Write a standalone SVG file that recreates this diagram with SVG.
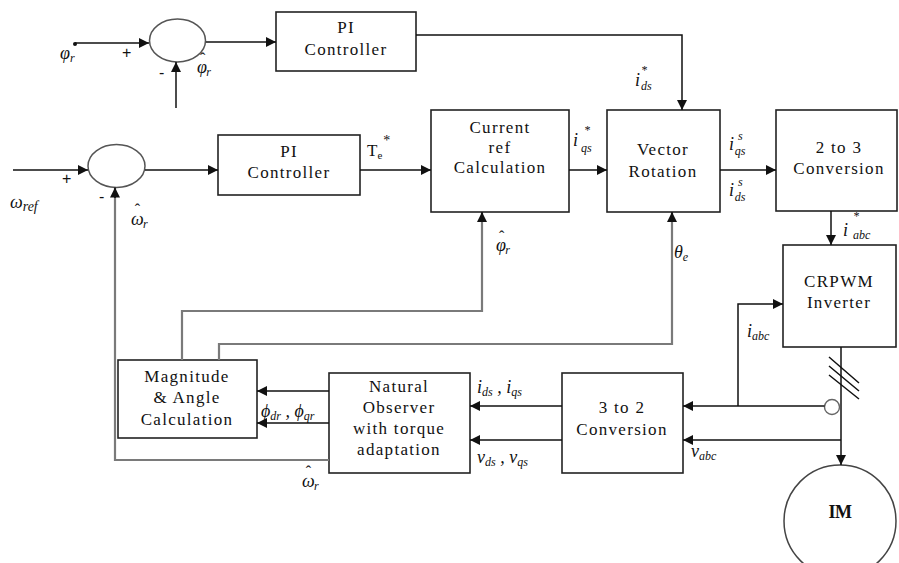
<svg xmlns="http://www.w3.org/2000/svg" width="899" height="563" viewBox="0 0 899 563">
  <style>
    .box { fill: #ffffff; stroke: #222; stroke-width: 1.6; }
    .sum { fill: none; stroke: #555; stroke-width: 1.5; }
    .wire { fill: none; stroke: #111; stroke-width: 1.5; }
    .fb { fill: none; stroke: #7a7a7a; stroke-width: 2.2; }
    .lbl { font-family: "Liberation Serif", "Times New Roman", serif; font-size: 17px; letter-spacing: 1.3px; fill: #111; text-anchor: middle; }
    .m { font-family: "Liberation Serif", serif; font-style: italic; font-size: 18px; fill: #111; }
    .s { font-size: 12px; }
    .hat { font-size: 16px; font-style: normal; }
    .sign { font-family: "Liberation Sans", sans-serif; font-size: 16px; fill: #111; }
  </style>
  <defs>
    <marker id="arrow" viewBox="0 0 10 10" refX="10" refY="5" markerWidth="11" markerHeight="10" markerUnits="userSpaceOnUse" orient="auto">
      <path d="M0,0 L10,5 L0,10 Z" fill="#111"/>
    </marker>
  </defs>

  <!-- summing junctions -->
  <g id="sum-flux">
    <ellipse class="sum" cx="177.5" cy="40.5" rx="28" ry="21.5"/>
    <text class="sign" x="122" y="58">+</text>
    <text class="sign" x="159" y="78">-</text>
  </g>
  <g id="sum-speed">
    <ellipse class="sum" cx="116.5" cy="166" rx="28.5" ry="21.5"/>
    <text class="sign" x="62" y="184">+</text>
    <text class="sign" x="99" y="202">-</text>
  </g>

  <!-- blocks -->
  <g id="pi-flux">
    <rect class="box" x="276" y="12" width="140" height="59"/>
    <text class="lbl" x="346" y="33">PI</text>
    <text class="lbl" x="346" y="55">Controller</text>
  </g>
  <g id="pi-speed">
    <rect class="box" x="218" y="135" width="142" height="60"/>
    <text class="lbl" x="289" y="157">PI</text>
    <text class="lbl" x="289" y="178">Controller</text>
  </g>
  <g id="current-ref">
    <rect class="box" x="431" y="110" width="138" height="102"/>
    <text class="lbl" x="500" y="133">Current</text>
    <text class="lbl" x="500" y="153">ref</text>
    <text class="lbl" x="500" y="173">Calculation</text>
  </g>
  <g id="vector-rotation">
    <rect class="box" x="607" y="110" width="113" height="102"/>
    <text class="lbl" x="663" y="155">Vector</text>
    <text class="lbl" x="663" y="177">Rotation</text>
  </g>
  <g id="conv-2to3">
    <rect class="box" x="776" y="110" width="121" height="101"/>
    <text class="lbl" x="839" y="153">2 to 3</text>
    <text class="lbl" x="839" y="174">Conversion</text>
  </g>
  <g id="crpwm">
    <rect class="box" x="783" y="245" width="113" height="102"/>
    <text class="lbl" x="839" y="287">CRPWM</text>
    <text class="lbl" x="839" y="308">Inverter</text>
  </g>
  <g id="magnitude-angle">
    <rect class="box" x="118" y="360" width="139" height="78"/>
    <text class="lbl" x="187" y="382">Magnitude</text>
    <text class="lbl" x="187" y="403">&amp; Angle</text>
    <text class="lbl" x="187" y="425">Calculation</text>
  </g>
  <g id="observer">
    <rect class="box" x="329" y="373" width="141" height="100"/>
    <text class="lbl" x="399" y="392">Natural</text>
    <text class="lbl" x="399" y="413">Observer</text>
    <text class="lbl" x="399" y="434">with torque</text>
    <text class="lbl" x="399" y="455">adaptation</text>
  </g>
  <g id="conv-3to2">
    <rect class="box" x="562" y="373" width="121" height="100"/>
    <text class="lbl" x="622" y="413">3 to 2</text>
    <text class="lbl" x="622" y="435">Conversion</text>
  </g>
  <g id="motor">
    <circle cx="840" cy="521" r="56" fill="#fff" stroke="#444" stroke-width="1.5"/>
    <text x="840" y="518" text-anchor="middle" font-family="Liberation Serif, serif" font-weight="bold" font-size="18" letter-spacing="-0.5" fill="#111">IM</text>
  </g>

  <!-- connectors -->
  <g id="connectors">
    <circle cx="75" cy="44" r="2" fill="#111"/>
    <path class="wire" d="M75,43 H149" marker-end="url(#arrow)"/>
    <path class="wire" d="M176,108 V62" marker-end="url(#arrow)"/>
    <path class="wire" d="M206,42 H276" marker-end="url(#arrow)"/>
    <path class="wire" d="M416,35 H682 V110" marker-end="url(#arrow)"/>
    <path class="wire" d="M13,170 H88" marker-end="url(#arrow)"/>
    <path class="wire" d="M145,170 H218" marker-end="url(#arrow)"/>
    <path class="wire" d="M360,170 H431" marker-end="url(#arrow)"/>
    <path class="wire" d="M569,170 H607" marker-end="url(#arrow)"/>
    <path class="wire" d="M720,170 H776" marker-end="url(#arrow)"/>
    <path class="wire" d="M831,211 V245" marker-end="url(#arrow)"/>
    <path class="wire" d="M841,347 V465" marker-end="url(#arrow)"/>
    <path class="wire" d="M829,357 L859,383 M829,366 L859,391 M829,375 L859,399"/>
    <circle cx="832" cy="407" r="7.5" fill="#fff" stroke="#666" stroke-width="1.4"/>
    <path class="wire" d="M824.5,406 H683" marker-end="url(#arrow)"/>
    <path class="wire" d="M738,406 V304 H783" marker-end="url(#arrow)"/>
    <path class="wire" d="M841,440 H683" marker-end="url(#arrow)"/>
    <path class="wire" d="M562,406 H470" marker-end="url(#arrow)"/>
    <path class="wire" d="M562,440 H470" marker-end="url(#arrow)"/>
    <path class="wire" d="M329,391 H257" marker-end="url(#arrow)"/>
    <path class="wire" d="M329,423 H257" marker-end="url(#arrow)"/>
    <path class="fb" d="M182,360 V311 H482 V213"/>
    <path class="wire" d="M482,222 V212" marker-end="url(#arrow)"/>
    <path class="fb" d="M219,360 V344 H672 V213"/>
    <path class="wire" d="M672,222 V212" marker-end="url(#arrow)"/>
    <path class="fb" d="M329,460 H115 V188"/>
    <path class="wire" d="M115,198 V187.5" marker-end="url(#arrow)"/>
  </g>

  <!-- signal labels -->
  <g id="labels">
    <text class="m" x="60" y="59">φ<tspan class="s" dy="3">r</tspan></text>
    <text class="m" x="197" y="73">φ<tspan class="hat" dx="-7" dy="-9">ˆ</tspan><tspan class="s" dx="1" dy="12">r</tspan></text>
    <text class="m" x="635" y="86">i<tspan class="s" dx="1" dy="-12">*</tspan><tspan class="s" dx="-6" dy="16">ds</tspan></text>
    <text font-family="Liberation Serif, serif" font-size="17" fill="#111" x="367" y="156">T<tspan font-size="11" dy="3">e</tspan><tspan font-size="14" dx="1" dy="-14">*</tspan></text>
    <text class="m" x="573" y="146">i<tspan class="s" dx="6" dy="-12">*</tspan><tspan class="s" dx="-9" dy="18">qs</tspan></text>
    <text class="m" x="496" y="251">φ<tspan class="hat" dx="-7" dy="-9">ˆ</tspan><tspan class="s" dx="1" dy="12">r</tspan></text>
    <text class="m" x="674" y="258">θ<tspan class="s" dy="3">e</tspan></text>
    <text class="m" x="729" y="150">i<tspan class="s" dx="4" dy="-10">s</tspan><tspan class="s" dx="-8" dy="15">qs</tspan></text>
    <text class="m" x="729" y="196">i<tspan class="s" dx="4" dy="-10">s</tspan><tspan class="s" dx="-8" dy="15">ds</tspan></text>
    <text class="m" x="843" y="236">i<tspan class="s" dx="5" dy="-16">*</tspan><tspan class="s" dx="-6" dy="19">abc</tspan></text>
    <text class="m" x="747" y="337">i<tspan class="s" dy="3">abc</tspan></text>
    <text class="m" x="691" y="457">v<tspan class="s" dy="3">abc</tspan></text>
    <text class="m" x="477" y="393">i<tspan class="s" dy="3">ds</tspan><tspan dy="-3"> , i</tspan><tspan class="s" dy="3">qs</tspan></text>
    <text class="m" x="477" y="463">v<tspan class="s" dy="3">ds</tspan><tspan dy="-3"> , v</tspan><tspan class="s" dy="3">qs</tspan></text>
    <text class="m" x="261" y="417">ϕ<tspan class="s" dy="3">dr</tspan><tspan dy="-3"> , ϕ</tspan><tspan class="s" dy="3">qr</tspan></text>
    <text class="m" x="131" y="225">ω<tspan class="hat" dx="-9" dy="-10">ˆ</tspan><tspan class="s" dx="3" dy="13">r</tspan></text>
    <text class="m" x="302" y="487">ω<tspan class="hat" dx="-9" dy="-10">ˆ</tspan><tspan class="s" dx="3" dy="13">r</tspan></text>
    <text class="m" x="10" y="208" font-size="26">ω<tspan font-size="14" dy="3">ref</tspan></text>
  </g>
</svg>
